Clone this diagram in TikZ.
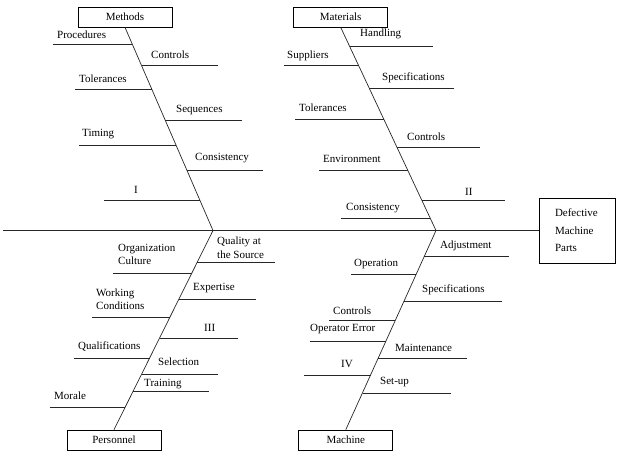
\documentclass[tikz,border=0pt]{standalone}
\usepackage{fontspec}
\setmainfont{Liberation Serif}
\usepackage{tikz}
\usetikzlibrary{positioning,calc}

\tikzset{
  catbox/.style={draw, line width=0.7pt, minimum width=94pt, minimum height=20pt, inner sep=0pt},
  bone/.style={line width=0.7pt, black!85},
  lbl/.style={anchor=west, inner sep=0pt, align=left, font=\fontsize{11}{13.5}\selectfont}
}

\begin{document}
\begin{tikzpicture}[x=1pt, y=-1pt, font=\fontsize{11}{13.5}\selectfont]
    \useasboundingbox (0,0) rectangle (618,475);

    % Category boxes
    \node[catbox] (methods) at (125,17) {Methods};
    \node[catbox] (materials) at (340.7,17) {Materials};
    \node[catbox] (personnel) at (114,440) {Personnel};
    \node[catbox] (machine) at (345.8,440) {Machine};

    % Effect
    \node[draw, line width=0.7pt, minimum height=65pt, text width=44pt, inner xsep=16pt, inner ysep=0pt, align=left,
          font=\fontsize{11}{17.5}\selectfont] (effect) at (577,230.5) {Defective\\Machine\\Parts};

    % Backbone and spines
    \coordinate (tail) at (3,230.5);
    \coordinate (jA) at (213,230.5);
    \coordinate (jB) at (436,230.5);
    \draw[bone] (tail) -- (effect.west);
    \draw[bone] (methods.south) -- (jA);
    \draw[bone] (personnel.north) -- (jA);
    \draw[bone] (materials.south) -- (jB);
    \draw[bone] (machine.north) -- (jB);

    % Methods
    \draw[bone] (53,44) -- (132.4,44);   \node[lbl] (m1) at (57,35) {Procedures};
    \draw[bone] (141.5,65) -- (218,65);  \node[lbl] (m2) at (151,55) {Controls};
    \draw[bone] (75,89) -- (151.9,89);   \node[lbl] (m3) at (79,79) {Tolerances};
    \draw[bone] (165.3,120) -- (242,120); \node[lbl] (m4) at (176,110) {Sequences};
    \draw[bone] (79,145) -- (176.2,145); \node[lbl] (m5) at (82,134) {Timing};
    \draw[bone] (187,170) -- (263,170);  \node[lbl] (m6) at (195,158) {Consistency};
    \draw[bone] (104,200) -- (200,200);  \node[lbl] (m7) at (134,190) {I};

    % Materials
    \draw[bone] (349.6,46) -- (433,46);  \node[lbl] (t1) at (360,34) {Handling};
    \draw[bone] (284,65) -- (358.5,65);  \node[lbl] (t2) at (287,56) {Suppliers};
    \draw[bone] (369.3,88) -- (454,88);  \node[lbl] (t3) at (382,78) {Specifications};
    \draw[bone] (295,119) -- (383.9,119); \node[lbl] (t4) at (299,108) {Tolerances};
    \draw[bone] (397,147) -- (480,147);  \node[lbl] (t5) at (407,137) {Controls};
    \draw[bone] (319,170) -- (407.8,170); \node[lbl] (t6) at (323,159) {Environment};
    \draw[bone] (421.9,200) -- (505,200); \node[lbl] (t7) at (465,192) {II};
    \draw[bone] (341,218) -- (430.4,218); \node[lbl] (t8) at (346,208) {Consistency};

    % Personnel
    \draw[bone] (197.2,262) -- (275,262); \node[lbl] (p1) at (217,247.5) {Quality at\\the Source};
    \draw[bone] (113,273) -- (191.7,273); \node[lbl] (p2) at (118,254.5) {Organization\\Culture};
    \draw[bone] (178.8,299) -- (256,299); \node[lbl] (p3) at (193,288) {Expertise};
    \draw[bone] (92,317) -- (169.9,317);  \node[lbl] (p4) at (96,299) {Working\\Conditions};
    \draw[bone] (159.5,338) -- (238,338); \node[lbl] (p5) at (204,328) {III};
    \draw[bone] (74,358) -- (149.6,358);  \node[lbl] (p6) at (78,347) {Qualifications};
    \draw[bone] (141.7,374) -- (218,374); \node[lbl] (p7) at (158,362) {Selection};
    \draw[bone] (133.3,391) -- (209,391); \node[lbl] (p8) at (144,384) {Training};
    \draw[bone] (50,407) -- (125.4,407);  \node[lbl] (p9) at (54,396) {Morale};

    % Machine
    \draw[bone] (424.3,256) -- (509,256); \node[lbl] (k1) at (440,246) {Adjustment};
    \draw[bone] (351,274) -- (416.2,274); \node[lbl] (k2) at (354,264) {Operation};
    \draw[bone] (404,301) -- (502,301);   \node[lbl] (k3) at (422,290) {Specifications};
    \draw[bone] (329,320) -- (395.4,320); \node[lbl] (k4) at (333,311) {Controls};
    \draw[bone] (310,341) -- (385.9,341); \node[lbl] (k5) at (310,329) {Operator Error};
    \draw[bone] (378.3,358) -- (467,358); \node[lbl] (k6) at (395,348) {Maintenance};
    \draw[bone] (304,375) -- (370.6,375); \node[lbl] (k7) at (341,364) {IV};
    \draw[bone] (362.5,393) -- (451,393); \node[lbl] (k8) at (380,382) {Set-up};

\end{tikzpicture}
\end{document}
